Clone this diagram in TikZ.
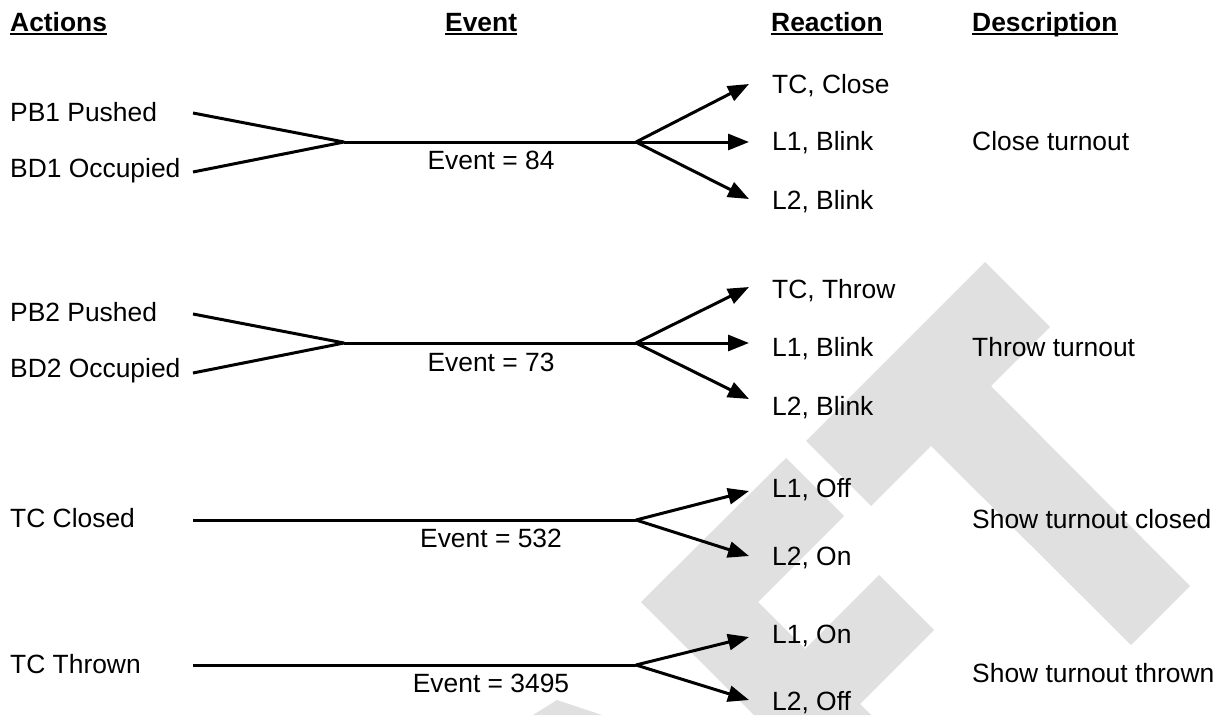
\documentclass[tikz,border=0pt]{standalone}
\usepackage{fontspec}
\setmainfont{Liberation Sans}
\usetikzlibrary{arrows.meta}
\definecolor{wm}{RGB}{224,224,224}
\begin{document}
\begin{tikzpicture}[x=1pt,y=-1pt,
  txt/.style={anchor=base west,inner sep=0pt,font=\fontsize{26.4}{30}\selectfont},
  hdr/.style={anchor=base west,inner sep=0pt,font=\fontsize{26.4}{30}\selectfont\bfseries},
  evt/.style={anchor=base,inner sep=0pt,font=\fontsize{26.4}{30}\selectfont},
  conn/.style={line width=3pt,line join=round},
  arr/.style={conn,-{Triangle[length=21pt,width=16pt]}},
  ul/.style={line width=2pt}]
\useasboundingbox (0,0) rectangle (1220,715);
% watermark
\fill[wm] (985,262) -- (1050,327) -- (991,386) -- (1190,586) -- (1131,645)
  -- (931,446) -- (871,506) -- (806,441) -- cycle;
\fill[wm] (641,602) -- (786,458) -- (844,516) -- (758,602) -- (805,649)
  -- (879,575) -- (934,630) -- (860,704) -- (871,715) -- (754,715) -- cycle;
\fill[wm] (557,700) -- (533,715) -- (602,715) -- cycle;
% headers
\node[hdr] (h1) at (10,31.5) {Actions};
\node[hdr] (h2) at (445,31.5) {Event};
\node[hdr] (h3) at (771,31.5) {Reaction};
\node[hdr] (h4) at (972,31.5) {Description};
\foreach \h in {h1,h2,h3,h4}
  \draw[ul] ([yshift=-2.5pt]\h.base west) -- ([yshift=-2.5pt]\h.base east);
% group 1
\node[txt] (pb1) at (10,121) {PB1 Pushed};
\node[txt] (bd1) at (10,177) {BD1 Occupied};
\coordinate (s1a) at (193,113);
\coordinate (s1b) at (193,172);
\coordinate (j1) at (344,142);
\coordinate (k1) at (636,142);
\coordinate (t1a) at (749,84);
\coordinate (t1b) at (749,142);
\coordinate (t1c) at (749,199);
\draw[conn] (s1a) -- (j1) -- (s1b);
\draw[conn] (j1) -- (k1);
\draw[arr] (k1) -- (t1a);
\draw[arr] (k1) -- (t1b);
\draw[arr] (k1) -- (t1c);
\node[evt] (e1) at (491,169) {Event = 84};
\node[txt] (r1a) at (772,93) {TC, Close};
\node[txt] (r1b) at (772,150) {L1, Blink};
\node[txt] (r1c) at (772,209) {L2, Blink};
\node[txt] (d1) at (972,150) {Close turnout};
% group 2
\node[txt] (pb2) at (10,321.5) {PB2 Pushed};
\node[txt] (bd2) at (10,377) {BD2 Occupied};
\coordinate (s2a) at (193,314);
\coordinate (s2b) at (193,373);
\coordinate (j2) at (344,343);
\coordinate (k2) at (636,343);
\coordinate (t2a) at (749,287);
\coordinate (t2b) at (749,343);
\coordinate (t2c) at (749,399);
\draw[conn] (s2a) -- (j2) -- (s2b);
\draw[conn] (j2) -- (k2);
\draw[arr] (k2) -- (t2a);
\draw[arr] (k2) -- (t2b);
\draw[arr] (k2) -- (t2c);
\node[evt] (e2) at (491,371) {Event = 73};
\node[txt] (r2a) at (772,298) {TC, Throw};
\node[txt] (r2b) at (772,356) {L1, Blink};
\node[txt] (r2c) at (772,415) {L2, Blink};
\node[txt] (d2) at (972,356) {Throw turnout};
% group 3
\node[txt] (tcc) at (10,527) {TC Closed};
\coordinate (s3) at (193,520);
\coordinate (k3) at (636,520);
\coordinate (t3a) at (749,491);
\coordinate (t3b) at (749,556);
\draw[conn] (s3) -- (k3);
\draw[arr] (k3) -- (t3a);
\draw[arr] (k3) -- (t3b);
\node[evt] (e3) at (491,547) {Event = 532};
\node[txt] (r3a) at (772,497) {L1, Off};
\node[txt] (r3b) at (772,565) {L2, On};
\node[txt] (d3) at (972,528) {Show turnout closed};
% group 4
\node[txt] (tct) at (10,673) {TC Thrown};
\coordinate (s4) at (193,665);
\coordinate (k4) at (636,665);
\coordinate (t4a) at (749,637);
\coordinate (t4b) at (749,700);
\draw[conn] (s4) -- (k4);
\draw[arr] (k4) -- (t4a);
\draw[arr] (k4) -- (t4b);
\node[evt] (e4) at (491,692) {Event = 3495};
\node[txt] (r4a) at (772,643) {L1, On};
\node[txt] (r4b) at (772,710) {L2, Off};
\node[txt] (d4) at (972,682) {Show turnout thrown};
\end{tikzpicture}
\end{document}
